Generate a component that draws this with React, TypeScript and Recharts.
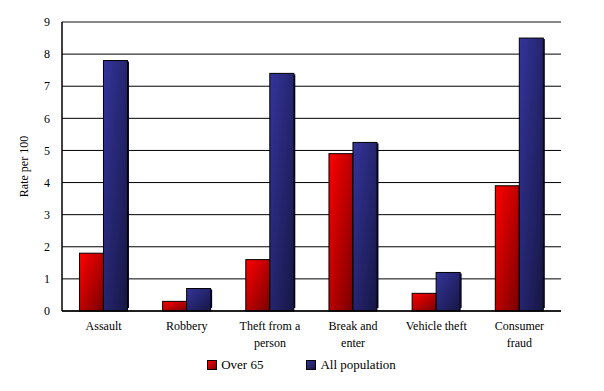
import React from 'react';
import { BarChart, Bar, XAxis, YAxis, CartesianGrid, ReferenceLine } from 'recharts';

const categories = ['Assault', 'Robbery', 'Theft from a\nperson', 'Break and\nenter', 'Vehicle theft', 'Consumer\nfraud'];
const over65 = [1.8, 0.3, 1.6, 4.9, 0.55, 3.9];
const allPopulation = [7.8, 0.7, 7.4, 5.25, 1.2, 8.5];
const yTicks = [0, 1, 2, 3, 4, 5, 6, 7, 8, 9];
const seriesNames = ['Over 65', 'All population'];

const data = categories.map((c, i) => ({ category: c, over65: over65[i], all: allPopulation[i] }));

const FONT = "'Times New Roman', 'Liberation Serif', Times, 'DejaVu Serif', serif";

const XTick = (props: any) => {
  const { x, y, payload } = props;
  const lines = String(payload.value).split('\n');
  return (
    <text x={x} y={y} textAnchor="middle" style={{ fontFamily: FONT }} fontSize={12} fill="#000">
      {lines.map((l: string, i: number) => (
        <tspan key={i} x={x} dy={i === 0 ? 11 : 17}>{l}</tspan>
      ))}
    </text>
  );
};

const BarShape = (fillId: string) => (props: any) => {
  const { x, y, width, height } = props;
  if (!height || height <= 0) return null;
  return (
    <g>
      <rect x={x + width} y={y + 1} width={1.5} height={Math.max(0, height - 4)} fill="#000033" />
      <rect x={x} y={y} width={width} height={height} fill={`url(#${fillId})`} stroke="#000" strokeWidth={1} />
    </g>
  );
};

export default function App() {
  return (
    <div style={{ position: 'absolute', left: 0, top: 0, width: 604, height: 391, background: '#fff', fontFamily: FONT }}>
      <BarChart
        width={604}
        height={391}
        data={data}
        margin={{ top: 22, right: 43, bottom: 40, left: 0 }}
        barCategoryGap="21%"
        barGap={0}
        style={{ fontFamily: FONT }}
      >
        <defs>
          <linearGradient id="gradRed" x1="0" y1="0" x2="1" y2="1">
            <stop offset="0%" stopColor="#ff0000" />
            <stop offset="100%" stopColor="#780000" />
          </linearGradient>
          <linearGradient id="gradBlue" x1="0" y1="0" x2="1" y2="1">
            <stop offset="0%" stopColor="#34349c" />
            <stop offset="100%" stopColor="#161644" />
          </linearGradient>
        </defs>
        <CartesianGrid vertical={false} stroke="#000" strokeWidth={1} />
        <XAxis
          dataKey="category"
          interval={0}
          tickLine={false}
          axisLine={{ stroke: '#000', strokeWidth: 1.5 }}
          height={40}
          tick={<XTick />}
        />
        <YAxis
          yAxisId={0}
          domain={[0, 9]}
          ticks={yTicks}
          width={62}
          tickLine={false}
          tickMargin={6}
          axisLine={{ stroke: '#000', strokeWidth: 1.5 }}
          tick={{ fontFamily: FONT, fontSize: 12, fill: '#000' }}
          label={{ value: 'Rate per 100', angle: -90, position: 'center', dx: -7, style: { fontFamily: FONT, fontSize: 12, fill: '#000' } }}
        />
        <YAxis
          yAxisId="r"
          orientation="right"
          domain={[0, 9]}
          width={0}
          tick={false}
          tickLine={false}
          axisLine={{ stroke: '#888', strokeWidth: 1.5 }}
        />
        <ReferenceLine y={9} stroke="#888" strokeWidth={1.5} />
        <Bar dataKey="over65" name={seriesNames[0]} isAnimationActive={false} shape={BarShape('gradRed')} />
        <Bar dataKey="all" name={seriesNames[1]} isAnimationActive={false} shape={BarShape('gradBlue')} />
      </BarChart>
      <div style={{ position: 'absolute', top: 357, left: 0, width: 604, display: 'flex', justifyContent: 'center', fontFamily: FONT, fontSize: 13, color: '#000' }}>
        {seriesNames.map((n, i) => (
          <div key={n} style={{ display: 'flex', alignItems: 'center', marginLeft: i === 0 ? -1 : 0, marginRight: i === 0 ? 43 : 0 }}>
            <span style={{ display: 'inline-block', width: 8, height: 8, border: '1px solid #000', background: i === 0 ? 'linear-gradient(135deg,#ff0000,#780000)' : 'linear-gradient(135deg,#34349c,#161644)', marginRight: 4 }} />
            <span>{n}</span>
          </div>
        ))}
      </div>
    </div>
  );
}
